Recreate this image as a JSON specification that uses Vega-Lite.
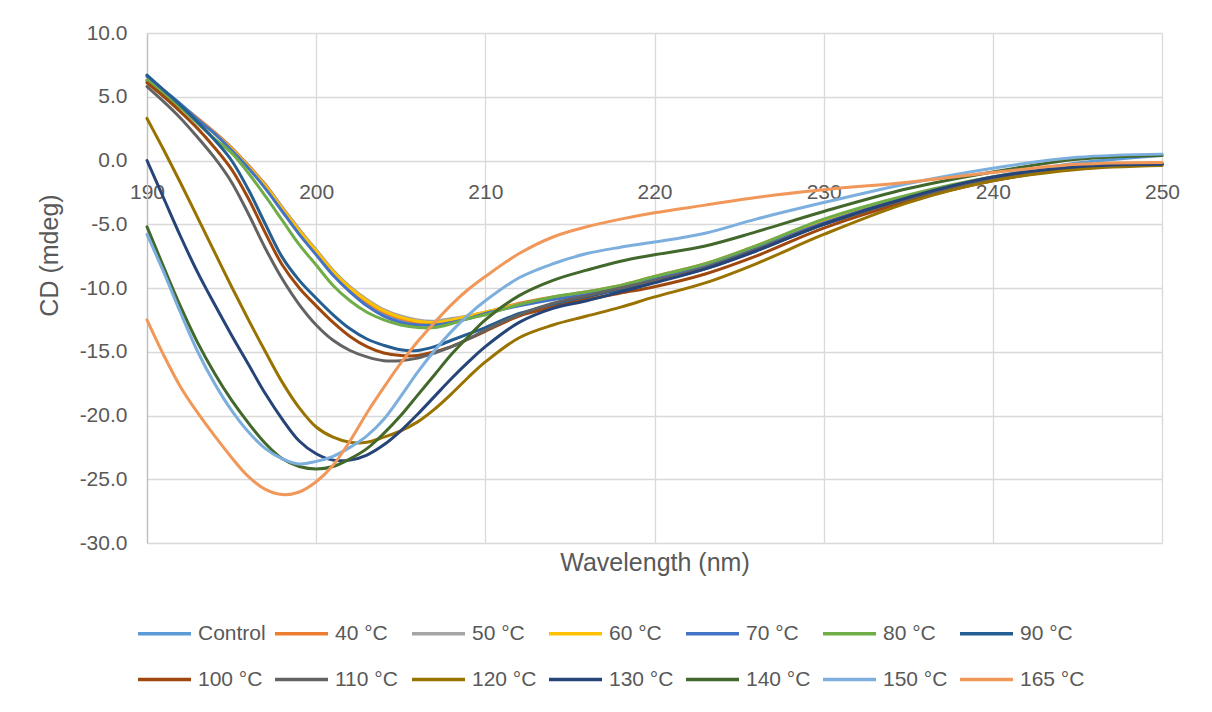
{
  "$schema": "https://vega.github.io/schema/vega-lite/v6.json",
  "width": 1015,
  "height": 510,
  "autosize": {"type": "none"},
  "padding": {"left": 147, "top": 33, "right": 50, "bottom": 169},
  "background": "white",
  "config": {
    "view": {"stroke": null},
    "font": "Liberation Sans",
    "locale": {"number": {"decimal": ".", "thousands": ",", "grouping": [3], "currency": ["$", ""], "minus": "-"}}
  },
  "data": {"values": [
    {"w":190,"Control":6.6,"40 °C":6.3,"50 °C":6.2,"60 °C":6.3,"70 °C":6.6,"80 °C":6.3,"90 °C":6.7,"100 °C":6.1,"110 °C":5.8,"120 °C":3.3,"130 °C":0.0,"140 °C":-5.2,"150 °C":-5.8,"165 °C":-12.5},
    {"w":191,"Control":5.5,"40 °C":5.3,"50 °C":5.2,"60 °C":5.2,"70 °C":5.5,"80 °C":5.2,"90 °C":5.5,"100 °C":5.0,"110 °C":4.6,"120 °C":0.8,"130 °C":-3.0,"140 °C":-8.4,"150 °C":-8.8,"165 °C":-15.3},
    {"w":192,"Control":4.4,"40 °C":4.3,"50 °C":4.2,"60 °C":4.2,"70 °C":4.4,"80 °C":4.1,"90 °C":4.3,"100 °C":3.8,"110 °C":3.3,"120 °C":-1.8,"130 °C":-6.0,"140 °C":-11.5,"150 °C":-12.0,"165 °C":-17.8},
    {"w":193,"Control":3.3,"40 °C":3.3,"50 °C":3.2,"60 °C":3.2,"70 °C":3.2,"80 °C":2.9,"90 °C":3.0,"100 °C":2.5,"110 °C":1.8,"120 °C":-4.5,"130 °C":-8.8,"140 °C":-14.3,"150 °C":-15.0,"165 °C":-19.8},
    {"w":194,"Control":2.2,"40 °C":2.2,"50 °C":2.1,"60 °C":2.1,"70 °C":2.1,"80 °C":1.7,"90 °C":1.6,"100 °C":1.0,"110 °C":0.2,"120 °C":-7.2,"130 °C":-11.3,"140 °C":-16.7,"150 °C":-17.5,"165 °C":-21.6},
    {"w":195,"Control":1.0,"40 °C":1.0,"50 °C":0.9,"60 °C":0.9,"70 °C":0.8,"80 °C":0.6,"90 °C":0.0,"100 °C":-0.7,"110 °C":-1.7,"120 °C":-9.9,"130 °C":-13.7,"140 °C":-18.8,"150 °C":-19.6,"165 °C":-23.3},
    {"w":196,"Control":-0.4,"40 °C":-0.4,"50 °C":-0.5,"60 °C":-0.5,"70 °C":-0.6,"80 °C":-1.0,"90 °C":-2.3,"100 °C":-3.0,"110 °C":-4.2,"120 °C":-12.5,"130 °C":-16.0,"140 °C":-20.6,"150 °C":-21.3,"165 °C":-24.8},
    {"w":197,"Control":-1.9,"40 °C":-1.9,"50 °C":-2.0,"60 °C":-2.0,"70 °C":-2.2,"80 °C":-2.8,"90 °C":-5.0,"100 °C":-5.7,"110 °C":-6.9,"120 °C":-15.0,"130 °C":-18.3,"140 °C":-22.2,"150 °C":-22.6,"165 °C":-25.8},
    {"w":198,"Control":-3.7,"40 °C":-3.7,"50 °C":-3.7,"60 °C":-3.8,"70 °C":-4.0,"80 °C":-4.7,"90 °C":-7.6,"100 °C":-8.2,"110 °C":-9.3,"120 °C":-17.4,"130 °C":-20.3,"140 °C":-23.4,"150 °C":-23.4,"165 °C":-26.2},
    {"w":199,"Control":-5.5,"40 °C":-5.4,"50 °C":-5.4,"60 °C":-5.5,"70 °C":-5.8,"80 °C":-6.6,"90 °C":-9.4,"100 °C":-10.0,"110 °C":-11.3,"120 °C":-19.4,"130 °C":-22.0,"140 °C":-24.0,"150 °C":-23.8,"165 °C":-26.0},
    {"w":200,"Control":-7.2,"40 °C":-7.1,"50 °C":-7.0,"60 °C":-7.1,"70 °C":-7.4,"80 °C":-8.2,"90 °C":-10.8,"100 °C":-11.4,"110 °C":-12.9,"120 °C":-20.9,"130 °C":-23.0,"140 °C":-24.2,"150 °C":-23.6,"165 °C":-25.2},
    {"w":201,"Control":-8.8,"40 °C":-8.7,"50 °C":-8.6,"60 °C":-8.7,"70 °C":-9.0,"80 °C":-9.8,"90 °C":-12.1,"100 °C":-12.7,"110 °C":-14.1,"120 °C":-21.7,"130 °C":-23.5,"140 °C":-24.0,"150 °C":-23.2,"165 °C":-23.9},
    {"w":202,"Control":-10.1,"40 °C":-10.0,"50 °C":-9.9,"60 °C":-10.0,"70 °C":-10.3,"80 °C":-11.0,"90 °C":-13.2,"100 °C":-13.8,"110 °C":-14.9,"120 °C":-22.1,"130 °C":-23.5,"140 °C":-23.4,"150 °C":-22.5,"165 °C":-22.0},
    {"w":203,"Control":-11.2,"40 °C":-11.1,"50 °C":-10.9,"60 °C":-11.0,"70 °C":-11.4,"80 °C":-11.9,"90 °C":-14.0,"100 °C":-14.6,"110 °C":-15.4,"120 °C":-22.1,"130 °C":-23.1,"140 °C":-22.6,"150 °C":-21.6,"165 °C":-19.8},
    {"w":204,"Control":-12.0,"40 °C":-11.9,"50 °C":-11.7,"60 °C":-11.8,"70 °C":-12.2,"80 °C":-12.5,"90 °C":-14.5,"100 °C":-15.1,"110 °C":-15.7,"120 °C":-21.7,"130 °C":-22.3,"140 °C":-21.4,"150 °C":-20.3,"165 °C":-17.8},
    {"w":205,"Control":-12.5,"40 °C":-12.4,"50 °C":-12.2,"60 °C":-12.3,"70 °C":-12.7,"80 °C":-12.9,"90 °C":-14.85,"100 °C":-15.3,"110 °C":-15.7,"120 °C":-21.2,"130 °C":-21.2,"140 °C":-20.0,"150 °C":-18.5,"165 °C":-15.9},
    {"w":206,"Control":-12.8,"40 °C":-12.7,"50 °C":-12.5,"60 °C":-12.6,"70 °C":-12.9,"80 °C":-13.1,"90 °C":-14.9,"100 °C":-15.3,"110 °C":-15.5,"120 °C":-20.5,"130 °C":-19.9,"140 °C":-18.4,"150 °C":-16.6,"165 °C":-14.2},
    {"w":207,"Control":-12.8,"40 °C":-12.7,"50 °C":-12.6,"60 °C":-12.7,"70 °C":-12.9,"80 °C":-13.1,"90 °C":-14.6,"100 °C":-15.0,"110 °C":-15.1,"120 °C":-19.5,"130 °C":-18.5,"140 °C":-16.8,"150 °C":-14.9,"165 °C":-12.7},
    {"w":208,"Control":-12.6,"40 °C":-12.5,"50 °C":-12.4,"60 °C":-12.5,"70 °C":-12.7,"80 °C":-12.8,"90 °C":-14.1,"100 °C":-14.6,"110 °C":-14.6,"120 °C":-18.3,"130 °C":-17.1,"140 °C":-15.2,"150 °C":-13.4,"165 °C":-11.3},
    {"w":209,"Control":-12.3,"40 °C":-12.2,"50 °C":-12.2,"60 °C":-12.2,"70 °C":-12.4,"80 °C":-12.4,"90 °C":-13.6,"100 °C":-14.0,"110 °C":-14.0,"120 °C":-17.0,"130 °C":-15.8,"140 °C":-13.8,"150 °C":-12.1,"165 °C":-10.1},
    {"w":210,"Control":-12.0,"40 °C":-11.9,"50 °C":-11.9,"60 °C":-11.9,"70 °C":-12.0,"80 °C":-12.1,"90 °C":-13.1,"100 °C":-13.4,"110 °C":-13.3,"120 °C":-15.8,"130 °C":-14.6,"140 °C":-12.5,"150 °C":-11.0,"165 °C":-9.1},
    {"w":212,"Control":-11.3,"40 °C":-11.2,"50 °C":-11.3,"60 °C":-11.3,"70 °C":-11.4,"80 °C":-11.3,"90 °C":-12.0,"100 °C":-12.2,"110 °C":-12.1,"120 °C":-13.9,"130 °C":-12.7,"140 °C":-10.6,"150 °C":-9.2,"165 °C":-7.3},
    {"w":214,"Control":-10.8,"40 °C":-10.7,"50 °C":-10.8,"60 °C":-10.8,"70 °C":-10.9,"80 °C":-10.7,"90 °C":-11.3,"100 °C":-11.5,"110 °C":-11.2,"120 °C":-12.9,"130 °C":-11.6,"140 °C":-9.4,"150 °C":-8.1,"165 °C":-6.0},
    {"w":216,"Control":-10.4,"40 °C":-10.3,"50 °C":-10.4,"60 °C":-10.4,"70 °C":-10.5,"80 °C":-10.3,"90 °C":-10.7,"100 °C":-10.9,"110 °C":-10.6,"120 °C":-12.2,"130 °C":-11.0,"140 °C":-8.6,"150 °C":-7.3,"165 °C":-5.2},
    {"w":218,"Control":-9.9,"40 °C":-9.8,"50 °C":-9.9,"60 °C":-9.9,"70 °C":-10.0,"80 °C":-9.8,"90 °C":-10.1,"100 °C":-10.4,"110 °C":-10.0,"120 °C":-11.5,"130 °C":-10.3,"140 °C":-7.9,"150 °C":-6.8,"165 °C":-4.6},
    {"w":220,"Control":-9.2,"40 °C":-9.1,"50 °C":-9.2,"60 °C":-9.2,"70 °C":-9.3,"80 °C":-9.1,"90 °C":-9.5,"100 °C":-9.9,"110 °C":-9.4,"120 °C":-10.7,"130 °C":-9.6,"140 °C":-7.4,"150 °C":-6.4,"165 °C":-4.1},
    {"w":223,"Control":-8.2,"40 °C":-8.1,"50 °C":-8.2,"60 °C":-8.2,"70 °C":-8.3,"80 °C":-8.1,"90 °C":-8.5,"100 °C":-8.9,"110 °C":-8.4,"120 °C":-9.6,"130 °C":-8.5,"140 °C":-6.7,"150 °C":-5.7,"165 °C":-3.5},
    {"w":226,"Control":-6.8,"40 °C":-6.7,"50 °C":-6.8,"60 °C":-6.8,"70 °C":-6.9,"80 °C":-6.7,"90 °C":-7.1,"100 °C":-7.5,"110 °C":-7.0,"120 °C":-8.1,"130 °C":-7.1,"140 °C":-5.6,"150 °C":-4.6,"165 °C":-2.9},
    {"w":230,"Control":-4.7,"40 °C":-4.7,"50 °C":-4.8,"60 °C":-4.8,"70 °C":-4.9,"80 °C":-4.6,"90 °C":-5.0,"100 °C":-5.3,"110 °C":-5.0,"120 °C":-5.8,"130 °C":-5.0,"140 °C":-4.0,"150 °C":-3.3,"165 °C":-2.3},
    {"w":235,"Control":-2.8,"40 °C":-2.8,"50 °C":-2.9,"60 °C":-2.9,"70 °C":-2.9,"80 °C":-2.7,"90 °C":-3.0,"100 °C":-3.2,"110 °C":-3.0,"120 °C":-3.3,"130 °C":-2.9,"140 °C":-2.2,"150 °C":-1.8,"165 °C":-1.7},
    {"w":240,"Control":-1.3,"40 °C":-1.4,"50 °C":-1.4,"60 °C":-1.4,"70 °C":-1.4,"80 °C":-1.3,"90 °C":-1.4,"100 °C":-1.6,"110 °C":-1.5,"120 °C":-1.6,"130 °C":-1.3,"140 °C":-0.9,"150 °C":-0.6,"165 °C":-0.95},
    {"w":245,"Control":-0.2,"40 °C":-0.5,"50 °C":-0.6,"60 °C":-0.6,"70 °C":-0.6,"80 °C":-0.5,"90 °C":-0.5,"100 °C":-0.6,"110 °C":-0.6,"120 °C":-0.7,"130 °C":-0.5,"140 °C":0.1,"150 °C":0.25,"165 °C":-0.3},
    {"w":250,"Control":0.4,"40 °C":-0.2,"50 °C":-0.3,"60 °C":-0.3,"70 °C":-0.3,"80 °C":-0.3,"90 °C":-0.3,"100 °C":-0.35,"110 °C":-0.3,"120 °C":-0.4,"130 °C":-0.3,"140 °C":0.4,"150 °C":0.5,"165 °C":-0.15}
  ]},
  "transform": [
    {"fold": ["Control","40 °C","50 °C","60 °C","70 °C","80 °C","90 °C","100 °C","110 °C","120 °C","130 °C","140 °C","150 °C","165 °C"], "as": ["series", "cd"]}
  ],
  "mark": {"type": "line", "interpolate": "catmull-rom", "strokeWidth": 3, "strokeCap": "round", "strokeJoin": "round"},
  "encoding": {
    "x": {
      "field": "w", "type": "quantitative",
      "scale": {"domain": [190, 250], "nice": false, "zero": false},
      "axis": {
        "values": [190, 200, 210, 220, 230, 240, 250],
        "grid": true, "gridColor": "#d9d9d9", "gridWidth": 1.3,
        "domain": false, "ticks": false,
        "offset": -382.5,
        "labelPadding": 21, "labelFontSize": 21, "labelColor": "#595959",
        "labelFlush": false, "labelOverlap": false,
        "title": "Wavelength (nm)", "titleFontSize": 25, "titleColor": "#595959",
        "titleFontWeight": "normal", "titleY": 402, "titleBaseline": "middle"
      }
    },
    "y": {
      "field": "cd", "type": "quantitative",
      "scale": {"domain": [-30, 10], "nice": false, "zero": false},
      "axis": {
        "values": [-30, -25, -20, -15, -10, -5, 0, 5, 10],
        "format": ".1f",
        "grid": true, "gridColor": "#d9d9d9", "gridWidth": 1.3,
        "domain": true, "domainColor": "#bfbfbf", "domainWidth": 1.3,
        "ticks": false,
        "labelPadding": 20, "labelFontSize": 21, "labelColor": "#595959",
        "title": "CD (mdeg)", "titleFontSize": 25, "titleColor": "#595959",
        "titleFontWeight": "normal", "titleAngle": -90,
        "titleX": -98, "titleY": 222, "titleAlign": "center", "titleBaseline": "middle"
      }
    },
    "color": {
      "field": "series", "type": "nominal",
      "scale": {
        "domain": ["Control","40 °C","50 °C","60 °C","70 °C","80 °C","90 °C","100 °C","110 °C","120 °C","130 °C","140 °C","150 °C","165 °C"],
        "range": ["#5B9BD5","#ED7D31","#A5A5A5","#FFC000","#4472C4","#70AD47","#255E91","#9E480E","#636363","#997300","#264478","#43682B","#7CAFDD","#F1975A"]
      },
      "legend": {
        "orient": "none", "legendX": -11, "legendY": 572,
        "direction": "horizontal", "columns": 7, "title": null,
        "symbolType": "stroke", "symbolSize": 2809, "symbolStrokeWidth": 3.5,
        "labelFontSize": 21, "labelColor": "#595959", "labelOffset": 5, "labelLimit": 300,
        "columnPadding": 2, "rowPadding": 7, "gridAlign": "all", "padding": 0
      }
    }
  }
}
